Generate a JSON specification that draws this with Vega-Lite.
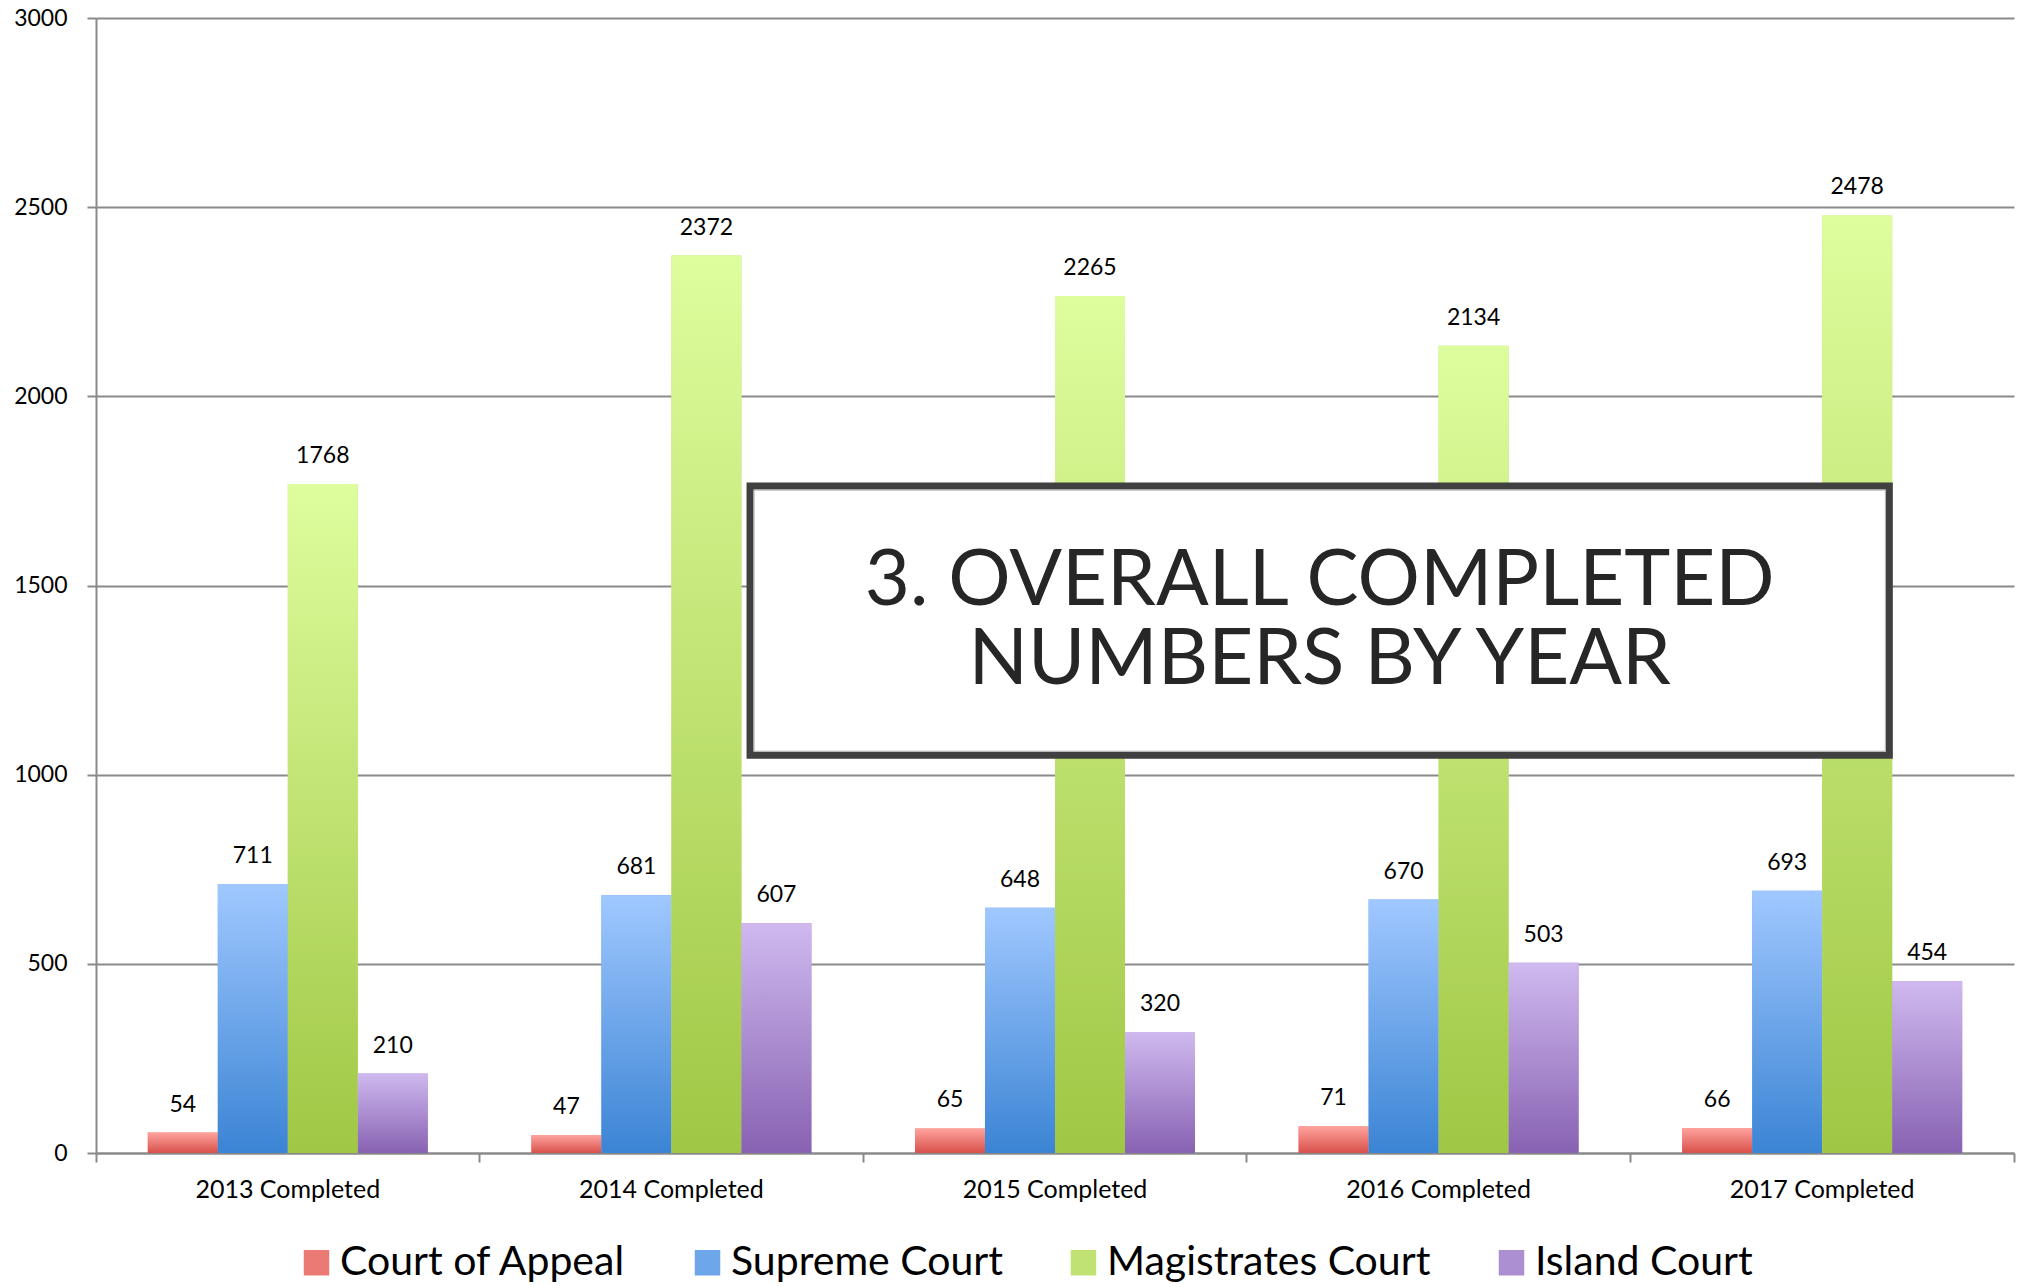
{
  "$schema": "https://vega.github.io/schema/vega-lite/v6.json",
  "autosize": {"type": "none"},
  "padding": {"left": 96, "top": 18, "right": 10, "bottom": 134},
  "width": 1918,
  "height": 1135,
  "background": "white",
  "config": {
    "view": {"stroke": null},
    "font": "Lato",
    "axis": {"labelFont": "Lato", "labelColor": "#000000", "labelFontSize": 23, "titleFont": "Lato"},
    "legend": {"labelFont": "Lato"}
  },
  "datasets": {
    "courts": [
      {"year": "2013 Completed", "court": "Court of Appeal", "value": 54},
      {"year": "2013 Completed", "court": "Supreme Court", "value": 711},
      {"year": "2013 Completed", "court": "Magistrates Court", "value": 1768},
      {"year": "2013 Completed", "court": "Island Court", "value": 210},
      {"year": "2014 Completed", "court": "Court of Appeal", "value": 47},
      {"year": "2014 Completed", "court": "Supreme Court", "value": 681},
      {"year": "2014 Completed", "court": "Magistrates Court", "value": 2372},
      {"year": "2014 Completed", "court": "Island Court", "value": 607},
      {"year": "2015 Completed", "court": "Court of Appeal", "value": 65},
      {"year": "2015 Completed", "court": "Supreme Court", "value": 648},
      {"year": "2015 Completed", "court": "Magistrates Court", "value": 2265},
      {"year": "2015 Completed", "court": "Island Court", "value": 320},
      {"year": "2016 Completed", "court": "Court of Appeal", "value": 71},
      {"year": "2016 Completed", "court": "Supreme Court", "value": 670},
      {"year": "2016 Completed", "court": "Magistrates Court", "value": 2134},
      {"year": "2016 Completed", "court": "Island Court", "value": 503},
      {"year": "2017 Completed", "court": "Court of Appeal", "value": 66},
      {"year": "2017 Completed", "court": "Supreme Court", "value": 693},
      {"year": "2017 Completed", "court": "Magistrates Court", "value": 2478},
      {"year": "2017 Completed", "court": "Island Court", "value": 454}
    ],
    "titlebox": [
      {"title": ["3. OVERALL COMPLETED", "NUMBERS BY YEAR"]}
    ]
  },
  "layer": [
    {
      "data": {"name": "courts"},
      "encoding": {
        "x": {
          "field": "year",
          "type": "nominal",
          "sort": null,
          "scale": {"paddingInner": 0, "paddingOuter": 0},
          "axis": {
            "title": null,
            "labelAngle": 0,
            "labelFontSize": 25,
            "labelLimit": 400,
            "bandPosition": 1,
            "tickExtra": true,
            "labelPadding": 15,
            "tickSize": 9,
            "tickColor": "#8a8a8a",
            "tickWidth": 2,
            "domainColor": "#8a8a8a",
            "domainWidth": 2,
            "grid": false
          }
        },
        "xOffset": {
          "field": "court",
          "type": "nominal",
          "scale": {"domain": ["Court of Appeal", "Supreme Court", "Magistrates Court", "Island Court"], "paddingInner": 0, "paddingOuter": 0.74}
        },
        "y": {
          "field": "value",
          "type": "quantitative",
          "scale": {"domain": [0, 3000], "nice": false},
          "axis": {
            "title": null,
            "format": "d",
            "values": [0, 500, 1000, 1500, 2000, 2500, 3000],
            "grid": true,
            "gridColor": "#8a8a8a",
            "gridWidth": 2,
            "domainColor": "#8a8a8a",
            "domainWidth": 2,
            "tickColor": "#8a8a8a",
            "tickWidth": 2,
            "tickSize": 9,
            "labelPadding": 20
          }
        }
      },
      "layer": [
        {
          "mark": {"type": "bar"},
          "encoding": {
            "color": {
              "field": "court",
              "type": "nominal",
              "scale": {
                "domain": ["Court of Appeal", "Supreme Court", "Magistrates Court", "Island Court"],
                "range": ["#EC7A74", "#6EA6EA", "#C0E273", "#AC8FD2"]
              },
              "legend": {
                "title": null,
                "orient": "none",
                "direction": "horizontal",
                "legendX": 200,
                "legendY": 1224,
                "symbolType": "square",
                "symbolSize": 650,
                "symbolStrokeWidth": 0,
                "labelFontSize": 41,
                "labelColor": "#000000",
                "labelOffset": 3,
                "columnPadding": 60,
                "labelLimit": 600
              }
            }
          }
        },
        {
          "transform": [{"filter": "datum.court === 'Court of Appeal'"}],
          "mark": {"type": "bar", "color": {"gradient": "linear", "x1": 0, "y1": 0, "x2": 0, "y2": 1, "stops": [{"offset": 0, "color": "#FFA39E"}, {"offset": 1, "color": "#D8504A"}]}}
        },
        {
          "transform": [{"filter": "datum.court === 'Supreme Court'"}],
          "mark": {"type": "bar", "color": {"gradient": "linear", "x1": 0, "y1": 0, "x2": 0, "y2": 1, "stops": [{"offset": 0, "color": "#A0C8FF"}, {"offset": 1, "color": "#3B84D4"}]}}
        },
        {
          "transform": [{"filter": "datum.court === 'Magistrates Court'"}],
          "mark": {"type": "bar", "color": {"gradient": "linear", "x1": 0, "y1": 0, "x2": 0, "y2": 1, "stops": [{"offset": 0, "color": "#DEFD9E"}, {"offset": 1, "color": "#A0C744"}]}}
        },
        {
          "transform": [{"filter": "datum.court === 'Island Court'"}],
          "mark": {"type": "bar", "color": {"gradient": "linear", "x1": 0, "y1": 0, "x2": 0, "y2": 1, "stops": [{"offset": 0, "color": "#CFB9EF"}, {"offset": 1, "color": "#8862B2"}]}}
        },
        {
          "mark": {"type": "text", "baseline": "alphabetic", "dy": -21, "fontSize": 23, "color": "#000000", "font": "Lato"},
          "encoding": {
            "text": {"field": "value", "type": "quantitative"}
          }
        }
      ]
    },
    {
      "data": {"name": "titlebox"},
      "layer": [
        {
          "mark": {"type": "rect", "fill": "white", "stroke": "#404040", "strokeWidth": 7},
          "encoding": {
            "x": {"datum": 0.341, "type": "quantitative", "scale": {"domain": [0, 1]}, "axis": null},
            "x2": {"datum": 0.935},
            "y": {"datum": 1051, "type": "quantitative"},
            "y2": {"datum": 1763}
          }
        },
        {
          "mark": {"type": "rect", "fill": null, "stroke": "#b0b0b0", "strokeWidth": 1},
          "encoding": {
            "x": {"datum": 0.3431, "type": "quantitative", "scale": {"domain": [0, 1]}, "axis": null},
            "x2": {"datum": 0.9329},
            "y": {"datum": 1062, "type": "quantitative"},
            "y2": {"datum": 1752}
          }
        },
        {
          "mark": {"type": "text", "font": "Lato", "fontSize": 78, "fontWeight": 400, "letterSpacing": 1, "lineHeight": 79, "baseline": "middle", "align": "center", "color": "#262626"},
          "encoding": {
            "x": {"datum": 0.638, "type": "quantitative", "scale": {"domain": [0, 1]}, "axis": null},
            "y": {"datum": 1508, "type": "quantitative"},
            "text": {"field": "title"}
          }
        }
      ]
    }
  ],
  "resolve": {"scale": {"x": "independent"}}
}
